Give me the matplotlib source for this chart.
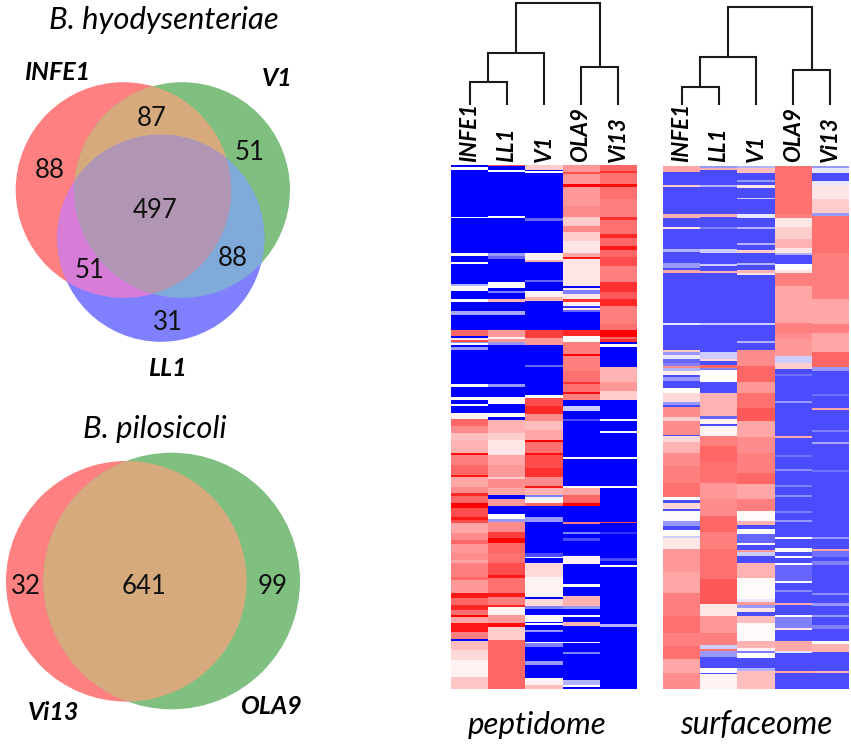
import numpy as np
import matplotlib
matplotlib.use("Agg")
import matplotlib.pyplot as plt
from matplotlib.patches import Circle, Polygon

plt.rcParams['font.family'] = ['Lato', 'DejaVu Sans']

W, H = 851, 744
NROWS = 524

strains = ['INFE1', 'LL1', 'V1', 'OLA9', 'Vi13']

# venn counts
hyo_counts = {'88a': 88, '87': 87, '51a': 51, '497': 497, '88b': 88, '51b': 51, '31': 31}
pilo_counts = [32, 641, 99]

# merge heights of the trees: (INFE1,LL1), (+V1), (OLA9,Vi13), top
pep_heights = [22.7, 51.7, 38.3, 101.7]
surf_heights = [18.3, 47.7, 34.7, 98.3]

# heatmap columns as (first row, value), each value holds until the next row
pep_infe1 = [(0,-1),(3,0),(6,-1),(53,0),(54,-1),(89,0),(92,-1),(98,0),(100,-1),(120,-.3),(122,.02),(127,-1),(135,0),(138,-1),
             (147,-.35),(151,-1),(166,.6),(172,-1),(174,.1),(176,.7),(178,-.4),(179,0),(181,-1),(183,-.4),(186,-1),(220,0),
             (223,-1),(233,0),(236,-1),(240,0),(242,-1),(249,.05),(255,.6),(262,.45),(268,.25),(275,.3),(288,.95),(290,.5),
             (300,.6),(310,.9),(312,.35),(322,.45),(328,.85),(331,.6),(338,1),(343,.7),(352,.9),(355,.7),(358,.35),(368,.45),
             (375,.6),(379,.4),(388,.45),(395,.35),(398,.5),(412,.6),(415,.4),(428,.9),(433,.6),(440,.85),(445,.55),(450,1),
             (452,.35),(458,.9),(467,.5),(474,-1),(476,.25),(485,.15),(495,.05),(512,.22)]
pep_ll1 = [(0,.7),(2,-1),(6,0),(8,-1),(52,0),(54,-1),(89,-.4),(92,-.6),(95,-1),(118,0),(124,-1),(127,-.5),(129,-1),(135,.3),
           (138,-1),(147,-.35),(151,-1),(166,.4),(173,.05),(175,.4),(178,-.4),(181,-1),(220,-.4),(223,-1),(233,.02),(240,-1),
           (249,0),(253,-1),(256,.3),(268,.2),(275,.1),(290,.35),(300,.4),(312,.2),(314,.45),(323,.35),(330,-1),(334,.4),
           (341,-1),(349,0),(354,-.4),(357,.45),(367,.75),(373,1),(378,.6),(388,.55),(398,.7),(410,.9),(413,.55),(428,.9),
           (432,.5),(440,.85),(442,.05),(450,.4),(458,.95),(462,.2),(475,.6)]
pep_v1 = [(0,.2),(6,-1),(7,0),(9,-1),(54,-.6),(57,-1),(89,.05),(96,.3),(98,-1),(116,-.6),(118,-1),(127,.05),(133,.3),(137,-1),
          (166,.75),(174,.4),(181,-1),(201,-.6),(203,-1),(231,0),(234,.7),(242,.85),(250,.45),(257,.25),(265,.35),(275,1),
          (277,.55),(288,.95),(290,.7),(303,.8),(312,.45),(321,.9),(323,.3),(330,-.5),(332,.05),(338,.6),(341,-1),(352,-.4),
          (357,-1),(388,-.7),(392,0),(393,-1),(398,.15),(412,.05),(432,-1),(434,.15),(441,-.5),(444,-1),(450,-.02),(457,-1),
          (458,0),(460,-1),(465,-.4),(467,-1),(477,0),(478,-.5),(482,-1),(496,-.4),(500,-1),(513,.05),(520,.25)]
pep_ola9 = [(0,.4),(8,.7),(10,.4),(20,1),(23,.4),(42,.45),(53,.2),(62,.45),(68,.2),(77,.1),(89,.35),(93,.9),(95,.1),(122,-1),
            (124,.1),(126,-.5),(130,.1),(135,.8),(138,.05),(142,-.8),(144,.1),(146,-.6),(148,-1),(166,.85),(172,.02),(178,.5),
            (190,1),(192,.5),(207,.55),(218,.8),(220,.55),(228,.95),(230,.5),(236,-1),(242,-.2),(247,-1),(255,-.7),(257,-1),
            (292,.05),(294,-1),(321,0),(323,.35),(330,.6),(338,1),(341,-1),(357,.5),(359,-1),(367,-.5),(369,-1),(373,-.7),
            (376,-1),(390,-.9),(391,.05),(399,-1),(419,0),(422,-1),(431,.3),(441,-.4),(444,-1),(450,0),(452,-1),(457,.3),
            (461,-1),(477,0),(478,-1),(487,-.5),(489,-1),(515,-.3),(520,0),(522,-1)]
pep_vi13 = [(0,.6),(7,.8),(9,.55),(20,.95),(23,.55),(35,.5),(53,.8),(56,.55),(70,.85),(74,.6),(82,.9),(86,.6),(93,.7),(102,.5),
            (118,.8),(128,.65),(135,.85),(142,.5),(160,.55),(166,1),(173,.6),(175,.8),(178,-1),(180,0),(183,-1),(203,.3),
            (218,.4),(227,.2),(236,-1),(255,0),(257,-1),(266,0),(268,-1),(292,0),(294,-1),(321,0),(323,-1),(357,.7),(358,-1),
            (367,-.8),(369,-1),(393,-.7),(396,-1),(400,0),(402,-1),(459,-.3),(462,-1)]

surf_infe1 = [(0,.35),(7,-.7),(20,.2),(22,-.7),(49,.3),(53,-.7),(62,.1),(64,-.7),(84,-.3),(87,-.7),(98,-.4),(103,-.7),(105,.35),
              (108,-.7),(158,-.1),(160,-.7),(185,.2),(187,-.4),(190,-.1),(194,-.6),(198,-.5),(201,.45),(203,-.3),(206,.05),
              (210,-.7),(212,-.4),(216,-.7),(223,0),(228,.15),(237,-.4),(240,-.7),(242,.45),(252,.2),(256,.45),(270,-.7),
              (271,.15),(277,.3),(288,.45),(301,.5),(318,.55),(332,0),(335,-.7),(338,.15),(344,-.7),(346,.02),(356,-.4),
              (361,-.7),(365,.02),(371,-.2),(373,.1),(384,.4),(407,.35),(428,.5),(451,.55),(468,.5),(481,.55),(494,.35),(508,.45)]
surf_ll1 = [(0,-.4),(3,.3),(5,-.7),(20,-.3),(22,-.7),(49,.3),(52,-.7),(62,-.5),(64,-.7),(84,-.2),(88,-.7),(99,-.2),(101,-.7),
            (106,.3),(108,-.7),(158,-.2),(160,-.7),(187,-.2),(194,.15),(196,-.7),(200,.6),(203,-.5),(205,0),(217,-.7),(228,.3),
            (251,-.6),(254,.05),(259,-.7),(261,.05),(271,.5),(281,.6),(297,.55),(318,.4),(334,.45),(351,.6),(367,.5),(384,.55),
            (414,.65),(439,.1),(451,.4),(468,.5),(480,-.2),(484,.55),(486,-.4),(492,-.7),(503,0),(508,-.7),(509,.05)]
surf_v1 = [(0,-.3),(3,.25),(8,-.7),(15,-.4),(17,-.7),(20,.1),(23,-.7),(33,-.2),(34,-.7),(49,-.1),(53,-.7),(62,-.3),(64,-.7),
           (78,-.3),(80,-.7),(85,.2),(88,-.7),(98,-.3),(100,-.7),(105,.3),(108,.1),(110,-.7),(158,-.2),(160,-.7),(176,-.3),
           (178,-.7),(185,.45),(201,.6),(217,.4),(228,.55),(243,.65),(256,.35),(272,.45),(288,.5),(308,.6),(319,.35),(334,.5),
           (346,.02),(356,.3),(360,-.7),(364,0),(369,-.6),(378,0),(380,-.7),(385,.4),(387,-.2),(391,-.7),(398,.3),(413,.02),
           (434,-.1),(437,.4),(440,-.4),(443,.1),(447,-.7),(451,.25),(458,.02),(476,.3),(483,.05),(486,-.5),(488,.01),
           (493,-.7),(503,-.3),(506,.25)]
surf_ola9 = [(0,.55),(49,.5),(53,.1),(62,.2),(74,.3),(83,.1),(88,-.3),(90,-.7),(99,0),(105,.1),(108,.5),(121,.35),(158,.5),
             (168,.45),(174,.4),(191,-.2),(198,.2),(204,-.7),(209,-.55),(211,-.7),(236,-.4),(238,-.7),(271,.35),(273,-.7),
             (290,-.55),(292,-.7),(304,-.45),(306,-.7),(320,-.5),(322,-.7),(330,-.45),(332,-.7),(346,-.5),(348,-.7),(355,-.4),
             (357,-.7),(372,.02),(374,-.7),(383,0),(387,-.7),(391,0),(393,-.7),(398,0),(400,-.6),(416,0),(418,-.7),(425,-.45),
             (427,-.7),(438,.35),(440,-.7),(450,0),(452,-.5),(463,.1),(465,-.7),(476,.35),(486,-.1),(488,-.7),(506,.35),(508,-.7)]
surf_vi13 = [(0,-.4),(3,-.1),(8,-.7),(16,-.1),(20,.1),(34,.2),(48,-.4),(51,.55),(88,.5),(134,.35),(159,.5),(168,.35),(187,.6),
             (202,-.4),(206,-.7),(229,-.55),(231,-.7),(243,.35),(245,-.7),(265,-.5),(267,-.7),(277,-.35),(279,-.7),(305,-.55),
             (307,-.7),(372,-.4),(374,-.7),(384,.35),(386,-.55),(392,-.7),(396,-.5),(400,-.7),(428,-.45),(430,-.7),(438,-.4),
             (441,-.7),(450,-.4),(452,-.7),(460,-.5),(464,-.7),(476,0),(479,.3),(487,-.7),(506,.3),(508,-.7)]


def expand(col):
    out = np.zeros(NROWS)
    for k, (start, val) in enumerate(col):
        end = col[k + 1][0] if k + 1 < len(col) else NROWS
        out[start:end] = val
    return out


def px_axes(x0, y0, x1, y1):
    ax = fig.add_axes([x0 / W, 1 - y1 / H, (x1 - x0) / W, (y1 - y0) / H])
    ax.axis('off')
    return ax


def overlap(ax, circles, color):
    # intersection of circles is convex, so its outline can be sorted by angle
    pts = []
    t = np.linspace(0, 2 * np.pi, 1500)
    for i, (cx, cy, r) in enumerate(circles):
        p = np.c_[cx + r * np.cos(t), cy + r * np.sin(t)]
        for j, (ox, oy, rr) in enumerate(circles):
            if i != j:
                p = p[(p[:, 0] - ox) ** 2 + (p[:, 1] - oy) ** 2 <= rr ** 2]
        pts.append(p)
    pts = np.vstack(pts)
    c = pts.mean(axis=0)
    pts = pts[np.argsort(np.arctan2(pts[:, 1] - c[1], pts[:, 0] - c[0]))]
    ax.add_patch(Polygon(pts, closed=True, fc=color, ec='none'))


def tree(ax, heights):
    h0, h1, h2, h3 = heights
    c0 = 0.5 * (0.5 + 1.5)
    c1 = 0.5 * (c0 + 2.5)
    c2 = 0.5 * (3.5 + 4.5)
    segs = [([0.5, 0.5, 1.5, 1.5], [0, h0, h0, 0]),
            ([c0, c0, 2.5, 2.5], [h0, h1, h1, 0]),
            ([3.5, 3.5, 4.5, 4.5], [0, h2, h2, 0]),
            ([c1, c1, c2, c2], [h1, h3, h3, h2])]
    for x, y in segs:
        ax.plot(x, y, color='#1a1a1a', lw=1.5, solid_joinstyle='miter', solid_capstyle='butt')
    ax.set_xlim(0, 5)
    ax.set_ylim(0, 105)


def heat(ax, cols):
    ax.imshow(np.column_stack([expand(c) for c in cols]), cmap='bwr', vmin=-1, vmax=1,
              aspect='auto', interpolation='nearest')


fig = plt.figure(figsize=(W / 100, H / 100), dpi=100)

# venn panels, drawn in image pixels
va = px_axes(0, 0, W, H)
va.set_xlim(0, W)
va.set_ylim(H, 0)

RED, GREEN, BLUE = '#ff8080', '#7fbf7f', '#8080ff'
c_red = (123.5, 190, 107.8)
c_green = (182.2, 190, 107.8)
c_blue = (160.8, 238.3, 103.5)
for c, col in [(c_red, RED), (c_green, GREEN), (c_blue, BLUE)]:
    va.add_patch(Circle(c[:2], c[2], fc=col, ec='none'))
overlap(va, [c_red, c_green], '#d6aa7d')
overlap(va, [c_red, c_blue], '#d77dd7')
overlap(va, [c_green, c_blue], '#7faada')
overlap(va, [c_red, c_green, c_blue], '#b096b2')

c_vi = (126.3, 581.3, 120.3)
c_ola = (171.7, 581, 128.3)
va.add_patch(Circle(c_vi[:2], c_vi[2], fc=RED, ec='none'))
va.add_patch(Circle(c_ola[:2], c_ola[2], fc=GREEN, ec='none'))
overlap(va, [c_vi, c_ola], '#d6aa7d')

num_pos = [('88a', 50, 170), ('87', 152, 118), ('51a', 250, 153), ('497', 155, 211),
           ('88b', 233, 258), ('51b', 90, 271), ('31', 168, 323)]
for key, x, y in num_pos:
    va.text(x, y, str(hyo_counts[key]), fontsize=18.5, ha='center', va='center', color='#111111')
for n, x in zip(pilo_counts, [26, 144, 273]):
    va.text(x, 587, str(n), fontsize=18.5, ha='center', va='center', color='#111111')

va.text(164, 20, 'B. hyodysenteriae', fontsize=22.3, style='italic', ha='center', va='center')
va.text(155, 429, 'B. pilosicoli', fontsize=22.3, style='italic', ha='center', va='center')
for name, x, y in [('INFE1', 57, 72), ('V1', 277, 79), ('LL1', 167, 368), ('Vi13', 53, 712), ('OLA9', 272, 707)]:
    va.text(x, y, name, fontsize=18, style='italic', weight='bold', ha='center', va='center')

va.text(537.5, 725, 'peptidome', fontsize=22.5, style='italic', ha='center', va='center')
va.text(756.7, 725, 'surfaceome', fontsize=22.8, style='italic', ha='center', va='center')

# heatmaps with their trees and column labels
heat(px_axes(451.3, 165, 636.7, 689), [pep_infe1, pep_ll1, pep_v1, pep_ola9, pep_vi13])
heat(px_axes(663.3, 166, 849, 689.5), [surf_infe1, surf_ll1, surf_v1, surf_ola9, surf_vi13])
tree(px_axes(451.3, 0, 636.7, 105), pep_heights)
tree(px_axes(663.3, 0, 849, 105), surf_heights)

for x0, x1 in [(451.3, 636.7), (663.3, 849)]:
    step = (x1 - x0) / 5
    for i, name in enumerate(strains):
        va.text(x0 + (i + 0.5) * step, 162, name, rotation=90, fontsize=16, style='italic', weight='bold',
                family=['Liberation Sans Narrow', 'Lato'], ha='center', va='bottom')

fig.savefig('out.png', dpi=100)
